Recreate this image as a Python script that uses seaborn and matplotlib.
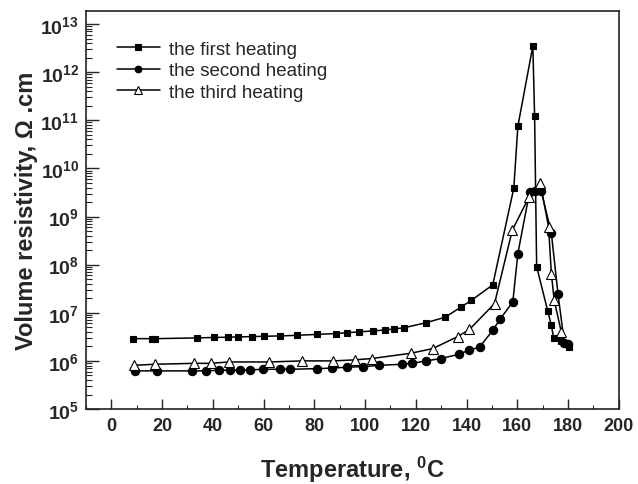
import numpy as np
import pandas as pd
import matplotlib
matplotlib.use('Agg')
import matplotlib.pyplot as plt
import matplotlib.ticker as mticker
import seaborn as sns

# data (temperature in C, resistivity in ohm.cm)
temp_first = [8.4, 16.2, 17.3, 33.7, 40.3, 45.8, 49.9, 55.5, 60.3, 66.4, 73.2, 80.9, 88.4, 92.8,
              97.4, 103.3, 107.9, 111.5, 115.4, 124.0, 131.6, 137.8, 141.8, 150.3, 158.6, 160.2,
              166.1, 166.8, 167.6, 172.0, 173.4, 174.3, 177.3, 180.3]
res_first = [2.9e6, 2.9e6, 2.9e6, 3.0e6, 3.07e6, 3.1e6, 3.15e6, 3.2e6, 3.25e6, 3.3e6, 3.4e6, 3.55e6,
             3.7e6, 3.85e6, 4.0e6, 4.2e6, 4.4e6, 4.6e6, 4.9e6, 6.2e6, 8.1e6, 1.32e7, 1.8e7, 3.8e7,
             3.9e9, 7.5e10, 3.5e12, 1.2e11, 9.1e7, 1.07e7, 5.5e6, 3.0e6, 2.6e6, 1.9e6]

temp_second = [9.3, 17.9, 31.7, 37.4, 42.3, 46.9, 50.6, 54.8, 59.8, 66.4, 70.2, 80.9, 87.1, 93.0,
               99.3, 105.5, 114.5, 118.5, 124.0, 129.9, 136.9, 140.8, 145.1, 150.3, 153.2, 158.2,
               160.2, 164.8, 166.8, 169.4, 173.4, 176.0, 178.5, 180.0]
res_second = [6.2e5, 6.2e5, 6.2e5, 6.2e5, 6.4e5, 6.4e5, 6.4e5, 6.5e5, 6.7e5, 6.7e5, 6.7e5, 6.9e5,
              7.1e5, 7.4e5, 7.6e5, 8.1e5, 8.5e5, 8.9e5, 1.0e6, 1.12e6, 1.37e6, 1.66e6, 1.94e6,
              4.3e6, 7.4e6, 1.67e7, 1.7e8, 3.2e9, 3.4e9, 3.4e9, 4.5e8, 2.5e7, 2.4e6, 2.2e6]

temp_third = [9.1, 17.0, 32.4, 39.4, 46.2, 62.3, 75.2, 87.4, 96.0, 102.6, 118.0, 126.6, 136.5,
              141.1, 151.0, 158.0, 164.7, 169.0, 172.3, 173.4, 174.5, 177.3]
res_third = [8.1e5, 8.5e5, 8.9e5, 8.9e5, 9.5e5, 9.5e5, 1.0e6, 1.0e6, 1.05e6, 1.12e6, 1.44e6, 1.8e6,
             3.2e6, 4.5e6, 1.55e7, 5.2e8, 2.6e9, 5.0e9, 6.1e8, 6.4e7, 1.85e7, 4.0e6]

sns.set_style('ticks')
plt.rcParams['font.family'] = ['Liberation Sans', 'DejaVu Sans']
plt.rcParams['mathtext.fontset'] = 'custom'
plt.rcParams['mathtext.rm'] = 'Liberation Sans:bold'
plt.rcParams['mathtext.bf'] = 'Liberation Sans:bold'
plt.rcParams['mathtext.default'] = 'bf'

fig = plt.figure(figsize=(6.38, 4.85), dpi=100)
ax = fig.add_axes([0.1348, 0.1546, 0.8352, 0.8206])

series = [
    (temp_first, res_first, 'the first heating', dict(marker='s', markersize=5, markerfacecolor='black')),
    (temp_second, res_second, 'the second heating', dict(marker='o', markersize=6, markerfacecolor='black')),
    (temp_third, res_third, 'the third heating', dict(marker='^', markersize=7, markerfacecolor='white')),
]
for t, r, name, style in series:
    df = pd.DataFrame({'T': t, 'R': r})
    sns.lineplot(data=df, x='T', y='R', ax=ax, color='black', linewidth=1.1, sort=False,
                 estimator=None, label=name, markeredgecolor='black', markeredgewidth=0.8, **style)

ax.set_yscale('log')
ax.set_xlim(-10, 200)
ax.set_ylim(1e5, 10 ** 13.27)
ax.xaxis.set_major_locator(mticker.MultipleLocator(20))
ax.xaxis.set_minor_locator(mticker.MultipleLocator(10))
ax.yaxis.set_major_locator(mticker.FixedLocator([10.0 ** k for k in range(5, 14)]))
ax.yaxis.set_minor_locator(mticker.LogLocator(base=10, subs=np.arange(2, 10), numticks=20))
ax.yaxis.set_major_formatter(mticker.FuncFormatter(
    lambda v, pos: r'$\mathbf{10^{%d}}$' % int(round(np.log10(v)))))
ax.tick_params(axis='both', which='both', direction='in', top=False, right=False)
ax.tick_params(axis='x', which='major', length=7, width=1, labelsize=13, pad=6)
ax.tick_params(axis='y', which='major', length=9, width=1, labelsize=14, pad=5)
ax.tick_params(axis='x', which='minor', length=3, width=0.8)
ax.tick_params(axis='y', which='minor', length=4, width=0.8)
for lbl in ax.get_xticklabels():
    lbl.set_fontweight('bold')
for s in ax.spines.values():
    s.set_linewidth(1.2)
    s.set_color('#222222')

ax.set_xlabel('Temperature, $^{0}$C', fontsize=17, fontweight='bold', labelpad=14)
ax.set_ylabel('Volume resistivity, \u03a9 .cm', fontsize=17, fontweight='bold', labelpad=2)

leg = ax.legend(loc='upper left', bbox_to_anchor=(0.058, 0.925), frameon=False, fontsize=13.5,
                handlelength=2.3, labelspacing=0.22, handletextpad=0.5, borderaxespad=0,
                borderpad=0, markerscale=0.8)

fig.savefig('out.png', dpi=100)
